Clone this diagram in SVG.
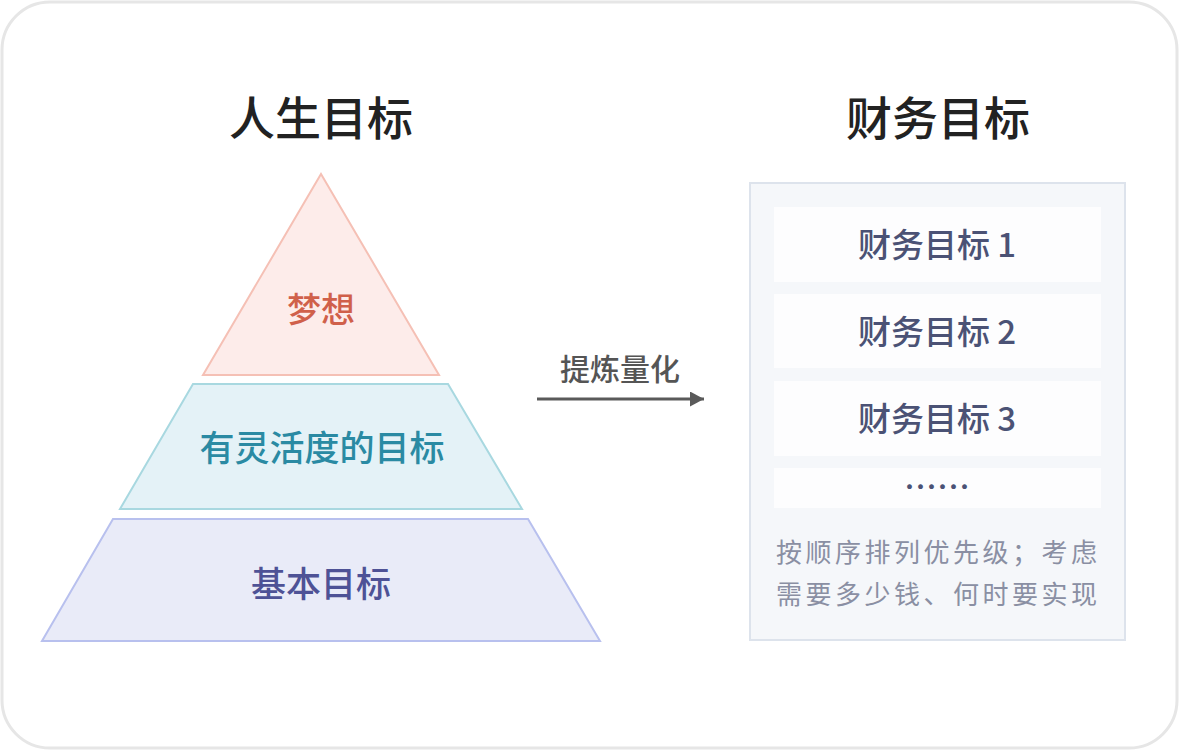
<svg xmlns="http://www.w3.org/2000/svg" width="1179" height="750" viewBox="0 0 1179 750">
  <defs>
    <marker id="arrow" markerWidth="14" markerHeight="15" refX="14" refY="7.5" orient="auto" markerUnits="userSpaceOnUse">
      <path d="M0,0 L14,7.5 L0,15 Z" fill="#5a5a5a"/>
    </marker>
  </defs>
  <style>
    text { font-family: "Noto Sans CJK SC", "Noto Sans", sans-serif; text-anchor: middle; }
    .title { font-size: 46px; font-weight: 500; fill: #222222; }
    .row { fill: #fdfdfe; }
    .rowtext { font-size: 33px; font-weight: 500; fill: #4b5275; }
    .desc { font-size: 26px; fill: #8a8fa3; text-anchor: start; letter-spacing: 3.5px; }
  </style>
  <rect x="2" y="2" width="1175" height="746" rx="48" fill="#ffffff" stroke="#e6e6e6" stroke-width="3"/>

  <text class="title" x="321" y="135">人生目标</text>
  <text class="title" x="938" y="135">财务目标</text>

  <g id="dream">
    <polygon points="321,174 439,375 203,375" fill="#fdecea" stroke="#f5c0b5" stroke-width="2"/>
    <text x="321" y="322" font-size="34" font-weight="500" fill="#d0604a">梦想</text>
  </g>
  <g id="flexible">
    <polygon points="193,384 448,384 522,509 120,509" fill="#e4f2f7" stroke="#a8d8e0" stroke-width="2"/>
    <text x="322" y="461" font-size="35" font-weight="500" fill="#2a8aa3">有灵活度的目标</text>
  </g>
  <g id="basic">
    <polygon points="113,519 528,519 600,641 42,641" fill="#e9ebf8" stroke="#b8c0ee" stroke-width="2"/>
    <text x="321" y="597" font-size="35" font-weight="500" fill="#4e5296">基本目标</text>
  </g>

  <g id="connectors">
    <line x1="537" y1="399" x2="704" y2="399" stroke="#5a5a5a" stroke-width="3" marker-end="url(#arrow)"/>
    <text x="620" y="380" font-size="30" font-weight="500" fill="#555555">提炼量化</text>
  </g>

  <g id="financial">
    <rect x="750" y="183" width="375" height="457" fill="#f5f7fa" stroke="#dde3ec" stroke-width="2"/>
    <g id="goal1">
      <rect class="row" x="774" y="207" width="327" height="75"/>
      <text class="rowtext" x="937" y="257">财务目标 1</text>
    </g>
    <g id="goal2">
      <rect class="row" x="774" y="294" width="327" height="74"/>
      <text class="rowtext" x="937" y="344">财务目标 2</text>
    </g>
    <g id="goal3">
      <rect class="row" x="774" y="381" width="327" height="75"/>
      <text class="rowtext" x="937" y="431">财务目标 3</text>
    </g>
    <g id="goalmore">
      <rect class="row" x="774" y="468" width="327" height="40"/>
      <text class="rowtext" x="937" y="499" font-weight="700">……</text>
    </g>
    <text class="desc" x="776" y="562">按顺序排列优先级；考虑</text>
    <text class="desc" x="776" y="604">需要多少钱、何时要实现</text>
  </g>
</svg>
